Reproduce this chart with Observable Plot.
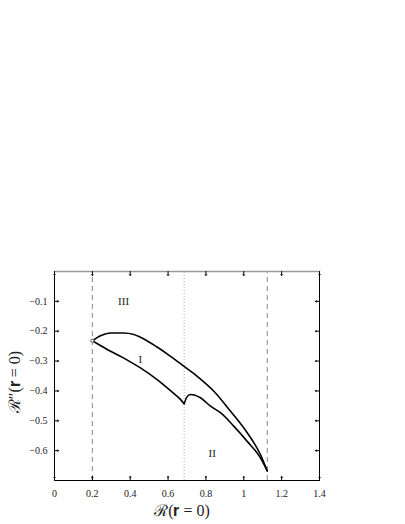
<!DOCTYPE html>
<html><head><meta charset="utf-8">
<script src="https://cdn.jsdelivr.net/npm/d3@7"></script>
<script src="https://cdn.jsdelivr.net/npm/@observablehq/plot@0.6"></script>
<style>body{margin:0;background:#fff}</style>
</head><body><div id="chart"></div>
<script>
const upperX = [0.2, 0.243, 0.296, 0.366, 0.419, 0.472, 0.542, 0.613, 0.683, 0.754, 0.842, 0.930, 1.018, 1.088, 1.124];
const upperY = [-0.232, -0.215, -0.206, -0.206, -0.211, -0.226, -0.253, -0.284, -0.317, -0.351, -0.401, -0.468, -0.540, -0.613, -0.668];
const lowerAX = [0.2, 0.278, 0.366, 0.454, 0.542, 0.613, 0.66, 0.685];
const lowerAY = [-0.232, -0.261, -0.290, -0.323, -0.362, -0.399, -0.425, -0.443];
const lowerBX = [0.685, 0.700, 0.718, 0.771, 0.824, 0.877, 0.947, 1.018, 1.088, 1.124];
const lowerBY = [-0.443, -0.420, -0.412, -0.423, -0.451, -0.473, -0.518, -0.569, -0.624, -0.668];
const dashedX = [0.2, 1.124];
const dottedX = [0.685];
const xTicks = [0, 0.2, 0.4, 0.6, 0.8, 1, 1.2, 1.4];
const yTicks = [-0.1, -0.2, -0.3, -0.4, -0.5, -0.6];
const regionLabels = ["III", "I", "II"];
const regionX = [0.365, 0.454, 0.833];
const regionY = [-0.102, -0.296, -0.61];

const toPts = (xs, ys) => xs.map((x, i) => ({x, y: ys[i]}));
const upper = toPts(upperX, upperY);
const lowerA = toPts(lowerAX, lowerAY);
const lowerB = toPts(lowerBX, lowerBY);
const regions = regionLabels.map((t, i) => ({t, x: regionX[i], y: regionY[i]}));
const fmtY = d3.format(".1f");

const plot = Plot.plot({
  width: 405, height: 524,
  marginLeft: 54, marginRight: 86, marginTop: 271, marginBottom: 44,
  style: {fontFamily: "'Liberation Serif', 'DejaVu Serif', serif", background: "#fff"},
  x: {domain: [0, 1.4]},
  y: {domain: [-0.7, 0]},
  marks: [
    Plot.ruleX(dashedX, {stroke: "#888", strokeDasharray: "5,4", strokeWidth: 1, y1: -0.7, y2: 0}),
    Plot.ruleX(dottedX, {stroke: "#aaa", strokeDasharray: "1,2", strokeWidth: 1, y1: -0.7, y2: 0}),
    Plot.line(upper, {x: "x", y: "y", curve: "monotone-x", stroke: "#000", strokeWidth: 1.6}),
    Plot.line(lowerA, {x: "x", y: "y", curve: "monotone-x", stroke: "#000", strokeWidth: 1.6}),
    Plot.line(lowerB, {x: "x", y: "y", curve: "monotone-x", stroke: "#000", strokeWidth: 1.6}),
    Plot.dot([upper[0]], {x: "x", y: "y", r: 1.6, stroke: "#555", fill: "#fff", strokeWidth: 1}),
    Plot.text(regions, {x: "x", y: "y", text: "t", fontSize: 11, fill: "#222"}),
    Plot.frame({stroke: "#000", strokeWidth: 1}),
    Plot.frame({anchor: "top", stroke: "#999", strokeWidth: 1.5}),
    Plot.vector(xTicks, {x: d => d, frameAnchor: "bottom", anchor: "start", length: 4, rotate: 0, stroke: "#000", strokeWidth: 1}),
    Plot.vector(xTicks, {x: d => d, frameAnchor: "top", anchor: "start", length: 4, rotate: 180, stroke: "#000", strokeWidth: 1}),
    Plot.vector(yTicks, {y: d => d, frameAnchor: "left", anchor: "start", length: 4, rotate: 90, stroke: "#000", strokeWidth: 1}),
    Plot.vector(yTicks, {y: d => d, frameAnchor: "right", anchor: "start", length: 4, rotate: -90, stroke: "#000", strokeWidth: 1}),
    Plot.axisX(xTicks, {tickSize: 0, tickPadding: 9, fontSize: 10, label: null, tickFormat: d => String(d), fill: "#222"}),
    Plot.axisY(yTicks, {tickSize: 0, tickPadding: 7, fontSize: 10, label: null, tickFormat: fmtY, fill: "#222"}),
    Plot.text(["ℛ(𝐫 = 0)"], {frameAnchor: "bottom", textAnchor: "middle", dx: -5, dy: 35, fontSize: 16, fill: "#222"}),
    Plot.text(["ℛ″(𝐫 = 0)"], {frameAnchor: "left", textAnchor: "middle", dx: -40, dy: 6, rotate: -90, fontSize: 16, fill: "#222"})
  ]
});
document.getElementById("chart").appendChild(plot);
</script>
</body></html>
